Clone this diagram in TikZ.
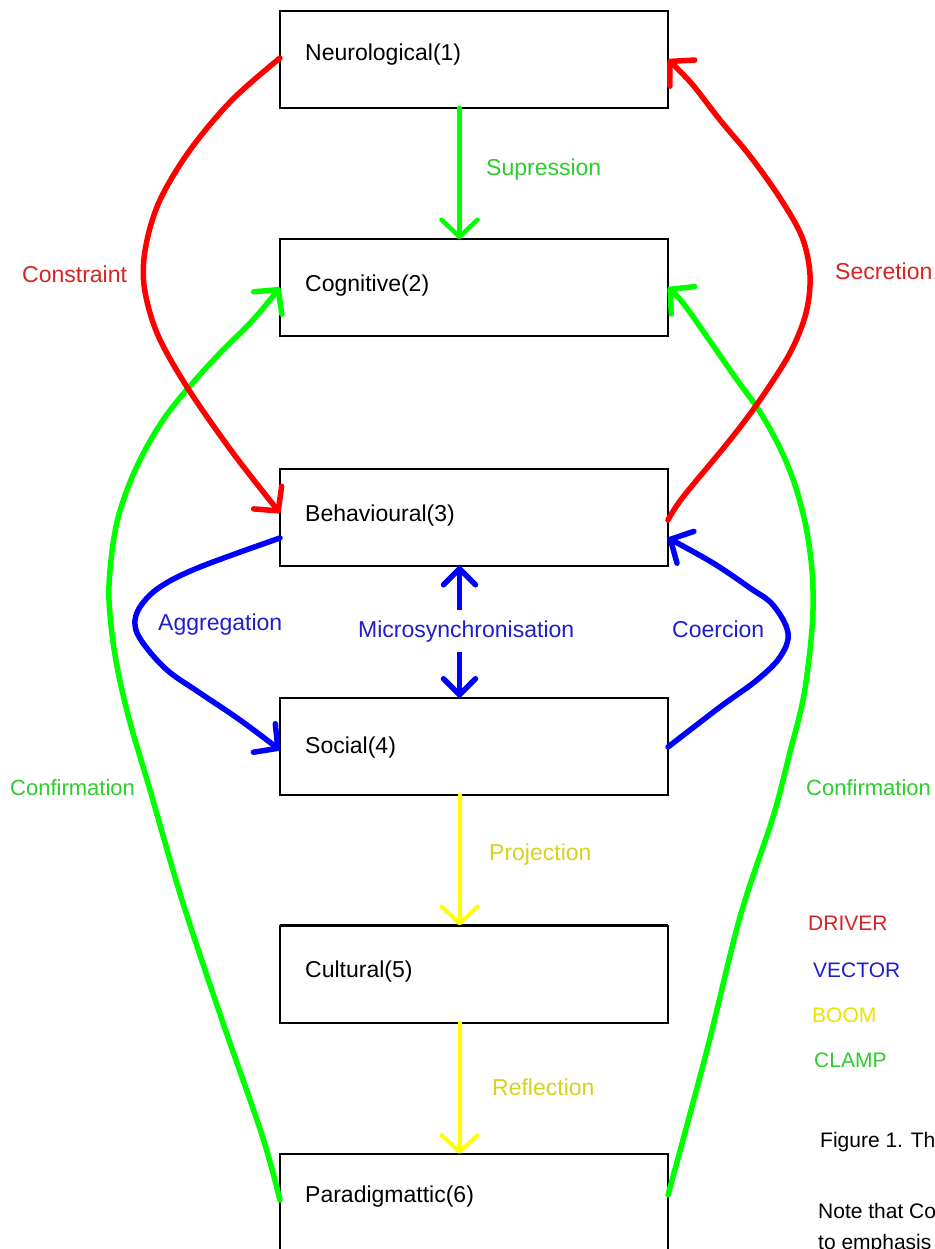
\documentclass[tikz,border=0pt]{standalone}
\usepackage{fontspec}
\setmainfont{Liberation Sans}
\usetikzlibrary{arrows.meta,calc}
\definecolor{lred}{RGB}{255,0,0}
\definecolor{lgreen}{RGB}{0,255,0}
\definecolor{lblue}{RGB}{0,0,255}
\definecolor{lyellow}{RGB}{255,255,0}
\definecolor{tred}{RGB}{215,35,35}
\definecolor{tgreen}{RGB}{45,205,45}
\definecolor{tblue}{RGB}{30,30,205}
\definecolor{tyellow}{RGB}{215,210,30}
\begin{document}
\begin{tikzpicture}[x=1pt,y=-1pt,
  box/.style={draw=black, line width=2pt, minimum width=388pt, minimum height=97pt, inner sep=0pt, outer sep=0pt},
  txt/.style={font=\fontsize{23}{27}\selectfont, inner sep=0pt, anchor=base west},
  legtxt/.style={font=\fontsize{21}{25}\selectfont, inner sep=0pt, anchor=base west},
  captxt/.style={font=\fontsize{21}{25}\selectfont, inner sep=0pt, anchor=base west},
  tip/.style={-{Straight Barb[length=17pt,width=36pt,line cap=round,line join=round]}},
  conn/.style={line width=5.5pt, line cap=round, line join=round, tip},
  driver/.style={conn, draw=lred},
  clamp/.style={conn, draw=lgreen},
  vect/.style={conn, draw=lblue},
  boom/.style={conn, draw=lyellow, line width=4pt},
]
\useasboundingbox (0,0) rectangle (934,1249);
\clip (0,0) rectangle (934,1249);
\fill[white] (0,0) rectangle (934,1249);

% boxes
\node[box] (n1) at (474,59.5) {};
\node[box] (n2) at (474,287.5) {};
\node[box] (n3) at (474,517.5) {};
\node[box] (n4) at (474,746) {};
\node[box] (n5) at (474,974) {};
\node[box] (n6) at (474,1202.5) {};
\draw[line width=3.5pt] (n5.north west) -- (n5.north east);

% box texts
\node[txt] (t1) at (305,61) {Neurological(1)};
\node[txt] (t2) at (305,291) {Cognitive(2)};
\node[txt] (t3) at (305,521) {Behavioural(3)};
\node[txt] (t4) at (305,753) {Social(4)};
\node[txt] (t5) at (305,977) {Cultural(5)};
\node[txt] (t6) at (305,1202) {Paradigmattic(6)};

% anchor coordinates
\coordinate (c1w) at ([yshift=1.5pt]n1.west);
\coordinate (c3wa) at ([yshift=4.5pt]n3.west);
\coordinate (c3e) at ([yshift=-2.5pt]n3.east);
\coordinate (c1e) at (n1.east);
\coordinate (c6w) at ([yshift=2.5pt]n6.west);
\coordinate (c6e) at ([yshift=7.5pt]n6.east);
\coordinate (c2w) at (n2.west);
\coordinate (c2e) at (n2.east);
\coordinate (c3wb) at ([yshift=-20.5pt]n3.west);
\coordinate (c4w) at ([yshift=-4pt]n4.west);
\coordinate (c4e) at ([yshift=-1pt]n4.east);
\coordinate (c3eb) at ([yshift=-20.5pt]n3.east);

% Confirmation left (green)
\draw[clamp] plot[smooth, tension=0.55] coordinates {(c6w) (262,1135) (222,1020) (182,900) (150,790) (128,715) (115,655) (109,600) (111,560) (117,522) (127,490) (139,462) (153,436) (168,413) (190,386) (220,353) (253,320) (c2w)};
% Confirmation right (green)
\draw[clamp] plot[smooth, tension=0.55] coordinates {(c6e) (707,1050) (740,917) (773,817) (790,752) (803,700) (810,650) (813,610) (812,570) (806,527) (795,485) (780,448) (760,412) (735,377) (710,341) (683,303) (c2e)};

% Constraint (red)
\draw[driver] plot[smooth, tension=0.55] coordinates {(c1w) (232,100) (190,150) (160,200) (146,245) (144,285) (157,333) (187,387) (233,453) (c3wa)};
% Secretion (red)
\draw[driver] plot[smooth, tension=0.55] coordinates {(c3e) (683,497) (730,440) (760,400) (790,353) (806,313) (810,275) (802,237) (780,198) (750,156) (720,120) (692,84) (c1e)};

% Aggregation (blue)
\draw[vect] plot[smooth, tension=0.6] coordinates {(c3wb) (200,567) (160,587) (140,607) (135,625) (143,643) (167,670) (200,693) (240,720) (c4w)};
% Coercion (blue)
\draw[vect] plot[smooth, tension=0.6] coordinates {(c4e) (720,707) (757,680) (780,657) (788,633) (773,605) (750,588) (713,563) (c3eb)};

% straight arrows
\draw[clamp, line width=4.5pt] ([xshift=-14.5pt]n1.south) -- ([xshift=-14.5pt]n2.north);
\draw[vect, {Straight Barb[length=16pt,width=32pt,line cap=round,line join=round]}-{Straight Barb[length=16pt,width=32pt,line cap=round,line join=round]}] ([xshift=-14.5pt]n3.south) -- ([xshift=-14.5pt]n4.north);
\draw[boom] ([xshift=-14.5pt]n4.south) -- ([xshift=-14.5pt]n5.north);
\draw[boom] ([xshift=-14.5pt]n5.south) -- ([xshift=-14.5pt]n6.north);

% labels
\node[txt, text=tgreen] (lsup) at (486,176) {Supression};
\node[txt, text=tred] (lcon) at (22,282) {Constraint};
\node[txt, text=tred] (lsec) at (835,279) {Secretion};
\node[txt, text=tblue] (lagg) at (158,630) {Aggregation};
\node[txt, text=tblue, fill=white, inner xsep=2pt, inner ysep=10pt] (lmic) at (356,637) {Microsynchronisation};
\node[txt, text=tblue] (lcoe) at (672,637) {Coercion};
\node[txt, font=\fontsize{22}{26}\selectfont, text=tgreen] (lcfl) at (10,795) {Confirmation};
\node[txt, font=\fontsize{22}{26}\selectfont, text=tgreen] (lcfr) at (806,795) {Confirmation};
\node[txt, text=tyellow] (lpro) at (489,860) {Projection};
\node[txt, text=tyellow] (lref) at (492,1095) {Reflection};

% legend
\node[legtxt, text=tred] (gdr) at (808,930) {DRIVER};
\node[legtxt, text=tblue] (gve) at (813,977) {VECTOR};
\node[legtxt, text=lyellow!90!black] (gbo) at (812,1022) {BOOM};
\node[legtxt, text=tgreen] (gcl) at (814,1067) {CLAMP};

% caption
\node[captxt] (cap1) at (820,1147) {Figure 1. Th};
\node[captxt] (cap2) at (818,1218) {Note that Co};
\node[captxt] (cap3) at (818,1249) {to emphasis};
\end{tikzpicture}
\end{document}
